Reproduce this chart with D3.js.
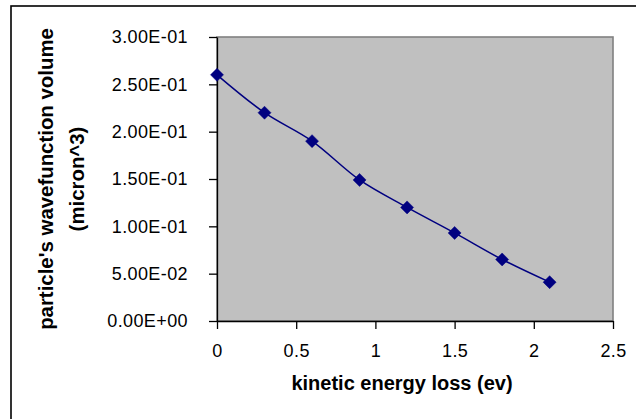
<!DOCTYPE html>
<html>
<head>
<meta charset="utf-8">
<script src="https://cdn.jsdelivr.net/npm/d3@7"></script>
<style>
  body { margin: 0; background: #fff; }
  svg { display: block; font-family: "Liberation Sans", Arial, sans-serif; }
</style>
</head>
<body>
<svg width="636" height="419"></svg>
<script>
  // DATA
  var energyLoss = [0, 0.3, 0.6, 0.9, 1.2, 1.5, 1.8, 2.1];
  var volume = [0.26, 0.22, 0.19, 0.149, 0.12, 0.093, 0.065, 0.041];
  var xTicks = [0, 0.5, 1, 1.5, 2, 2.5];
  var yTicks = [0, 0.05, 0.1, 0.15, 0.2, 0.25, 0.3];
  var xTitle = "kinetic energy loss (ev)";
  var yTitle = ["particle's wavefunction volume", "(micron^3)"];

  var svg = d3.select("svg"),
    margin = { top: 37, right: 23, bottom: 98, left: 217 },
    width = 636 - margin.left - margin.right,
    height = 419 - margin.top - margin.bottom;

  // outer chart border (runs off the right and bottom edges)
  svg.append("rect")
    .attr("x", 11).attr("y", 6)
    .attr("width", 640).attr("height", 430)
    .attr("fill", "#fff")
    .attr("stroke", "#000")
    .attr("stroke-width", 1.6);

  var x = d3.scaleLinear().domain([0, 2.5]).range([0, width]),
    y = d3.scaleLinear().domain([0, 0.3]).range([height, 0]);

  var g = svg.append("g")
    .attr("transform", "translate(" + margin.left + "," + margin.top + ")");

  // plot area
  g.append("rect")
    .attr("width", width).attr("height", height)
    .attr("fill", "#c0c0c0")
    .attr("stroke", "#808080")
    .attr("stroke-width", 1.6);

  g.append("g")
    .attr("class", "axis axis--x")
    .attr("transform", "translate(0," + height + ")")
    .call(d3.axisBottom(x).tickValues(xTicks).tickSizeInner(8).tickSizeOuter(0).tickPadding(15)
      .tickFormat(function (d) { return d; }));

  g.append("g")
    .attr("class", "axis axis--y")
    .call(d3.axisLeft(y).tickValues(yTicks).tickSizeInner(8).tickSizeOuter(0).tickPadding(21)
      .tickFormat(function (d) {
        var s = d.toExponential(2).toUpperCase();
        return s.replace(/E([+-])(\d)$/, "E$10$2");
      }));

  g.selectAll(".axis path, .axis line").attr("stroke", "#000").attr("stroke-width", 1.3);
  g.selectAll(".axis text")
    .attr("fill", "#000")
    .attr("font-size", "18px")
    .attr("letter-spacing", "0.4px")
    .attr("font-family", "'Liberation Sans', Arial, sans-serif");

  // axis titles
  svg.append("text")
    .attr("x", 402)
    .attr("y", 390)
    .attr("text-anchor", "middle")
    .attr("font-size", "20px")
    .attr("font-weight", "bold")
    .text(xTitle);

  svg.selectAll(".ytitle")
    .data(yTitle)
    .enter().append("text")
    .attr("class", "ytitle")
    .attr("transform", function (d, i) { return "translate(" + (53 + i * 31) + ",179) rotate(-90)"; })
    .attr("text-anchor", "middle")
    .attr("font-size", "20.4px")
    .attr("font-weight", "bold")
    .text(function (d) { return d; });

  var pts = energyLoss.map(function (e, i) { return { e: e, v: volume[i] }; });

  var line = d3.line()
    .x(function (d) { return x(d.e); })
    .y(function (d) { return y(d.v); })
    .curve(d3.curveCatmullRom.alpha(0.5));

  g.append("path")
    .datum(pts)
    .attr("class", "line")
    .attr("fill", "none")
    .attr("stroke", "#000080")
    .attr("stroke-width", 1.5)
    .attr("d", line);

  g.selectAll(".dot")
    .data(pts)
    .enter().append("path")
    .attr("class", "dot")
    .attr("transform", function (d) { return "translate(" + x(d.e) + "," + y(d.v) + ")"; })
    .attr("d", "M0,-6.5L6.5,0L0,6.5L-6.5,0Z")
    .attr("fill", "#000080")
    .attr("stroke", "#000080")
    .attr("stroke-width", 0.5);
</script>
</body>
</html>
